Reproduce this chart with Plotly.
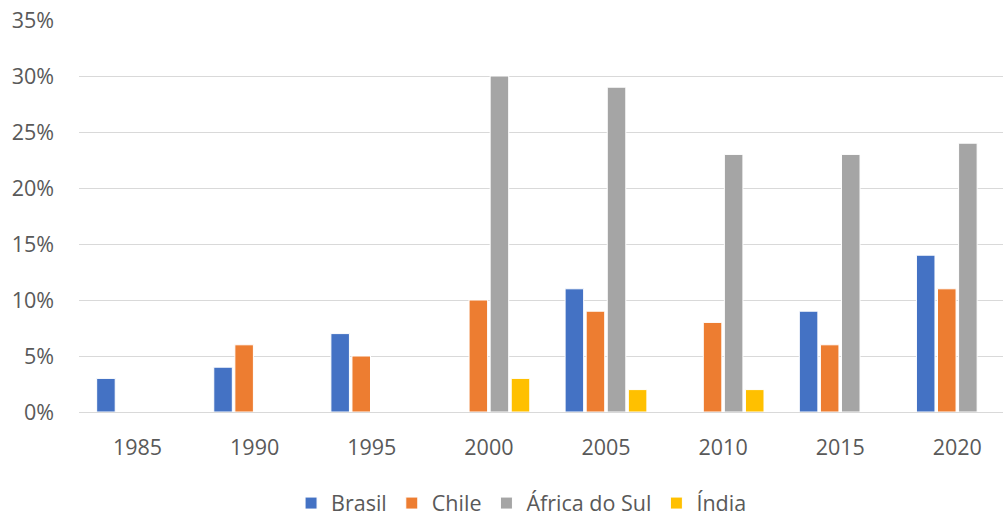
import plotly.graph_objects as go

# Years on the category axis
anos = ["1985", "1990", "1995", "2000", "2005", "2010", "2015", "2020"]

# Share per country (fractions); None where no bar is drawn
brasil = [0.03, 0.04, 0.07, None, 0.11, None, 0.09, 0.14]
chile = [None, 0.06, 0.05, 0.10, 0.09, 0.08, 0.06, 0.11]
africa_do_sul = [None, None, None, 0.30, 0.29, 0.23, 0.23, 0.24]
india = [None, None, None, 0.03, 0.02, 0.02, None, None]

series = [
    ("Brasil", brasil, "#4472C4"),
    ("Chile", chile, "#ED7D31"),
    ("África do Sul", africa_do_sul, "#A5A5A5"),
    ("Índia", india, "#FFC000"),
]

FONT = "Open Sans"
GREY_TEXT = "#595959"
SIZE = 21.5

fig = go.Figure()
for nome, valores, cor in series:
    fig.add_trace(go.Bar(
        name=nome,
        x=anos,
        y=valores,
        marker=dict(color=cor, line=dict(color="white", width=1)),
    ))

fig.update_layout(
    width=1003,
    height=516,
    barmode="group",
    bargap=0.28,
    bargroupgap=0.12,
    plot_bgcolor="white",
    paper_bgcolor="white",
    margin=dict(l=79, r=0, t=20, b=104, pad=0, autoexpand=False),
    font=dict(family=FONT, size=SIZE, color=GREY_TEXT),
    showlegend=True,
    legend=dict(
        orientation="h",
        xref="container",
        yref="container",
        x=0.52,
        xanchor="center",
        y=0.025,
        yanchor="middle",
        font=dict(family=FONT, size=SIZE, color=GREY_TEXT),
        itemwidth=30,
        traceorder="normal",
    ),
    xaxis=dict(
        type="category",
        range=[-0.5, 7.39],
        showgrid=False,
        showline=True,
        linecolor="#D9D9D9",
        linewidth=1,
        ticks="",
        ticklabelstandoff=16,
        tickfont=dict(family=FONT, size=SIZE, color=GREY_TEXT),
    ),
    yaxis=dict(
        range=[0, 0.35],
        dtick=0.05,
        tickformat=".0%",
        showgrid=True,
        gridcolor="#D9D9D9",
        gridwidth=1,
        zeroline=False,
        showline=False,
        ticks="",
        ticklabelstandoff=24,
        tickfont=dict(family=FONT, size=SIZE, color=GREY_TEXT),
    ),
)

fig.write_html("out.html")
